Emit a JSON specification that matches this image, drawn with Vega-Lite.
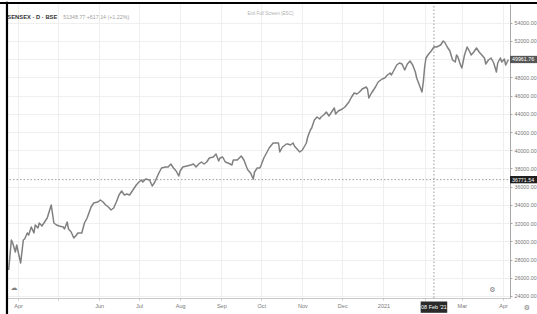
{
  "$schema": "https://vega.github.io/schema/vega-lite/v6.json",
  "width": 503,
  "height": 294,
  "autosize": {"type": "none"},
  "padding": {"left": 7, "top": 4, "right": 27, "bottom": 16},
  "background": "white",
  "config": {"view": {"stroke": null}, "font": "Liberation Sans"},
  "datasets": {
    "p": [
      {"date":"2020-03-25","value":26854},{"date":"2020-03-27","value":30147},{"date":"2020-03-28","value":29818},{"date":"2020-03-30","value":28830},{"date":"2020-03-31","value":29598},
      {"date":"2020-04-02","value":28281},{"date":"2020-04-03","value":27622},{"date":"2020-04-05","value":30147},{"date":"2020-04-06","value":30257},{"date":"2020-04-08","value":30916},
      {"date":"2020-04-09","value":30696},{"date":"2020-04-11","value":31574},{"date":"2020-04-13","value":30916},{"date":"2020-04-14","value":31794},{"date":"2020-04-16","value":31464},
      {"date":"2020-04-17","value":32013},{"date":"2020-04-19","value":31684},{"date":"2020-04-21","value":32123},{"date":"2020-04-23","value":32562},{"date":"2020-04-26","value":33989},
      {"date":"2020-04-28","value":32013},{"date":"2020-04-30","value":31794},{"date":"2020-05-02","value":31684},{"date":"2020-05-05","value":31574},{"date":"2020-05-06","value":31355},
      {"date":"2020-05-08","value":32123},{"date":"2020-05-09","value":31355},{"date":"2020-05-11","value":31025},{"date":"2020-05-13","value":30367},{"date":"2020-05-15","value":30696},
      {"date":"2020-05-16","value":30916},{"date":"2020-05-19","value":30916},{"date":"2020-05-21","value":32013},{"date":"2020-05-23","value":32562},{"date":"2020-05-26","value":33770},
      {"date":"2020-05-28","value":34209},{"date":"2020-05-31","value":34318},{"date":"2020-06-02","value":34538},{"date":"2020-06-04","value":34318},{"date":"2020-06-06","value":33989},
      {"date":"2020-06-08","value":33770},{"date":"2020-06-10","value":33440},{"date":"2020-06-12","value":33660},{"date":"2020-06-14","value":34318},{"date":"2020-06-16","value":35087},
      {"date":"2020-06-18","value":35526},{"date":"2020-06-20","value":35087},{"date":"2020-06-22","value":35197},{"date":"2020-06-24","value":35087},{"date":"2020-06-27","value":35745},
      {"date":"2020-06-29","value":36184},{"date":"2020-07-01","value":36514},{"date":"2020-07-03","value":36733},{"date":"2020-07-04","value":36514},{"date":"2020-07-06","value":36843},
      {"date":"2020-07-09","value":36733},{"date":"2020-07-11","value":36075},{"date":"2020-07-13","value":36514},{"date":"2020-07-16","value":37502},{"date":"2020-07-18","value":38051},
      {"date":"2020-07-21","value":38160},{"date":"2020-07-23","value":38160},{"date":"2020-07-25","value":38490},{"date":"2020-07-27","value":38051},{"date":"2020-07-29","value":37721},
      {"date":"2020-07-31","value":37172},{"date":"2020-08-01","value":37721},{"date":"2020-08-03","value":38160},{"date":"2020-08-06","value":38270},{"date":"2020-08-09","value":38380},
      {"date":"2020-08-11","value":38490},{"date":"2020-08-13","value":38160},{"date":"2020-08-15","value":38490},{"date":"2020-08-17","value":38709},{"date":"2020-08-19","value":38490},
      {"date":"2020-08-21","value":38709},{"date":"2020-08-23","value":39148},{"date":"2020-08-26","value":39258},{"date":"2020-08-28","value":39587},{"date":"2020-08-30","value":38819},
      {"date":"2020-08-31","value":39148},{"date":"2020-09-02","value":39258},{"date":"2020-09-04","value":38709},{"date":"2020-09-06","value":38599},{"date":"2020-09-09","value":38380},
      {"date":"2020-09-10","value":38929},{"date":"2020-09-13","value":38929},{"date":"2020-09-16","value":39368},{"date":"2020-09-18","value":38929},{"date":"2020-09-20","value":38160},
      {"date":"2020-09-21","value":37831},{"date":"2020-09-23","value":37502},{"date":"2020-09-25","value":36843},{"date":"2020-09-26","value":37612},{"date":"2020-09-28","value":38051},
      {"date":"2020-09-30","value":38051},{"date":"2020-10-01","value":38380},{"date":"2020-10-03","value":39148},{"date":"2020-10-05","value":39697},{"date":"2020-10-07","value":40246},
      {"date":"2020-10-10","value":40795},{"date":"2020-10-12","value":40795},{"date":"2020-10-14","value":40795},{"date":"2020-10-15","value":39807},{"date":"2020-10-17","value":40356},
      {"date":"2020-10-20","value":40685},{"date":"2020-10-21","value":40685},{"date":"2020-10-23","value":40575},{"date":"2020-10-25","value":40795},{"date":"2020-10-26","value":40466},
      {"date":"2020-10-28","value":40136},{"date":"2020-10-30","value":39807},{"date":"2020-11-01","value":40026},{"date":"2020-11-04","value":40795},{"date":"2020-11-05","value":41453},
      {"date":"2020-11-07","value":42222},{"date":"2020-11-08","value":42441},{"date":"2020-11-10","value":43320},{"date":"2020-11-12","value":43649},{"date":"2020-11-14","value":43430},
      {"date":"2020-11-15","value":43649},{"date":"2020-11-17","value":43869},{"date":"2020-11-19","value":44198},{"date":"2020-11-21","value":43759},{"date":"2020-11-23","value":44198},
      {"date":"2020-11-25","value":44637},{"date":"2020-11-26","value":43978},{"date":"2020-11-28","value":44307},{"date":"2020-12-01","value":44527},{"date":"2020-12-03","value":44747},
      {"date":"2020-12-06","value":45295},{"date":"2020-12-08","value":45844},{"date":"2020-12-10","value":46283},{"date":"2020-12-12","value":46174},{"date":"2020-12-14","value":46393},
      {"date":"2020-12-16","value":46722},{"date":"2020-12-19","value":46942},{"date":"2020-12-20","value":46722},{"date":"2020-12-21","value":45734},{"date":"2020-12-23","value":46283},
      {"date":"2020-12-26","value":46942},{"date":"2020-12-28","value":47491},{"date":"2020-12-31","value":47820},{"date":"2021-01-02","value":47930},{"date":"2021-01-04","value":48259},
      {"date":"2021-01-06","value":48479},{"date":"2021-01-07","value":48259},{"date":"2021-01-09","value":48808},{"date":"2021-01-11","value":49357},{"date":"2021-01-13","value":49576},
      {"date":"2021-01-15","value":49466},{"date":"2021-01-17","value":48808},{"date":"2021-01-19","value":49466},{"date":"2021-01-21","value":49796},{"date":"2021-01-23","value":49357},
      {"date":"2021-01-25","value":48588},{"date":"2021-01-26","value":47930},{"date":"2021-01-28","value":47161},{"date":"2021-01-30","value":46393},{"date":"2021-01-31","value":47491},
      {"date":"2021-02-01","value":49137},{"date":"2021-02-02","value":50125},{"date":"2021-02-04","value":50564},{"date":"2021-02-06","value":50894},{"date":"2021-02-08","value":51349},
      {"date":"2021-02-10","value":51333},{"date":"2021-02-13","value":51552},{"date":"2021-02-15","value":51991},{"date":"2021-02-16","value":51881},{"date":"2021-02-18","value":51333},
      {"date":"2021-02-20","value":50894},{"date":"2021-02-22","value":49906},{"date":"2021-02-24","value":49686},{"date":"2021-02-25","value":50455},{"date":"2021-02-26","value":50235},
      {"date":"2021-02-28","value":49357},{"date":"2021-03-01","value":49027},{"date":"2021-03-03","value":50455},{"date":"2021-03-05","value":51333},{"date":"2021-03-07","value":50784},
      {"date":"2021-03-08","value":50455},{"date":"2021-03-10","value":50784},{"date":"2021-03-12","value":51223},{"date":"2021-03-14","value":50784},{"date":"2021-03-16","value":50455},
      {"date":"2021-03-18","value":50125},{"date":"2021-03-19","value":49467},{"date":"2021-03-21","value":49906},{"date":"2021-03-23","value":50125},{"date":"2021-03-25","value":49576},
      {"date":"2021-03-27","value":48588},{"date":"2021-03-28","value":49576},{"date":"2021-03-30","value":50125},{"date":"2021-03-31","value":49686},{"date":"2021-04-02","value":50015},
      {"date":"2021-04-03","value":49357},{"date":"2021-04-05","value":49962}
    ],
    "a": [
      {"kind":"cross","date":"2021-02-08","date2":"2021-02-08","value":23780,"value2":56053},
      {"kind":"cross","date":"2020-03-23","date2":"2021-04-07","value":36771.54,"value2":36771.54},
      {"kind":"frame","date":"2020-03-23T17:00:00Z","date2":"2020-03-23T17:00:00Z","value":21900,"value2":56300},
      {"kind":"frame","date":"2020-03-17","date2":"2021-04-28","value":56163,"value2":56163},
      {"kind":"box","box":"last","date":"2021-04-06T05:30:00Z","date2":"2021-04-28","value":50362,"value2":49562,"text":"49961.76"},
      {"kind":"box","box":"cross","date":"2021-04-06T05:30:00Z","date2":"2021-04-28","value":37171,"value2":36371,"text":"36771.54"},
      {"kind":"box","box":"date","date":"2021-01-29","date2":"2021-02-18","value":23396,"value2":22156},
      {"kind":"pricetext","date":"2021-04-07","value":49961.76,"text":"49961.76"},
      {"kind":"pricetext","date":"2021-04-07","value":36771.54,"text":"36771.54"},
      {"kind":"datetext","date":"2021-02-08","value":22776,"text":"08 Feb '21"},
      {"kind":"title","date":"2020-03-24","value":54626,"text":"SENSEX · D · BSE"},
      {"kind":"quote","date":"2020-05-05","value":54626,"text":"51348.77 +617.14 (+1.22%)"},
      {"kind":"exit","date":"2020-10-08","value":54955,"text":"Exit Full Screen (ESC)"},
      {"kind":"icon","date":"2021-03-24","value":24659,"text":"⚙"},
      {"kind":"icon","date":"2021-04-19","value":22683,"text":"⚙"},
      {"kind":"icon","date":"2020-03-29","value":24878,"text":"☁"}
    ]
  },
  "encoding": {
    "x": {
      "field": "date", "type": "temporal",
      "scale": {"type": "utc", "nice": false,
        "domain": [{"year": 2020, "month": 3, "date": 23, "hours": 17, "minutes": 20, "utc": true},
                   {"year": 2021, "month": 4, "date": 6, "hours": 5, "minutes": 30, "utc": true}]},
      "axis": {
        "title": null, "orient": "bottom",
        "values": [
          {"year":2020,"month":4,"date":1,"utc":true},{"year":2020,"month":5,"date":1,"utc":true},{"year":2020,"month":6,"date":1,"utc":true},
          {"year":2020,"month":7,"date":1,"utc":true},{"year":2020,"month":8,"date":1,"utc":true},{"year":2020,"month":9,"date":1,"utc":true},
          {"year":2020,"month":10,"date":1,"utc":true},{"year":2020,"month":11,"date":1,"utc":true},{"year":2020,"month":12,"date":1,"utc":true},
          {"year":2021,"month":1,"date":1,"utc":true},{"year":2021,"month":2,"date":1,"utc":true},{"year":2021,"month":3,"date":1,"utc":true},
          {"year":2021,"month":4,"date":1,"utc":true}
        ],
        "labelExpr": "(utcmonth(datum.value)==4 || utcmonth(datum.value)==1) ? '' : (utcmonth(datum.value)==0 ? utcFormat(datum.value,'%Y') : utcFormat(datum.value,'%b'))",
        "grid": true, "gridColor": "#efefef", "gridWidth": 1,
        "domainColor": "#c8c8c8", "tickColor": "#c8c8c8", "tickSize": 2,
        "labelFontSize": 5.5, "labelColor": "#777777", "labelPadding": 3,
        "labelOverlap": false, "labelFlush": false
      }
    },
    "y": {
      "field": "value", "type": "quantitative",
      "scale": {"domain": [23780, 56053], "nice": false, "zero": false},
      "axis": {
        "title": null, "orient": "right",
        "values": [24000,26000,28000,30000,32000,34000,36000,38000,40000,42000,44000,46000,48000,50000,52000,54000],
        "labelExpr": "datum.value == 50000 ? '' : format(datum.value, '.2f')",
        "grid": true, "gridColor": "#efefef", "gridWidth": 1,
        "domainColor": "#a8a8a8", "tickColor": "#a8a8a8", "tickSize": 2,
        "labelFontSize": 5.3, "labelColor": "#777777", "labelPadding": 2,
        "labelOverlap": false, "labelFlush": false
      }
    }
  },
  "layer": [
    {
      "data": {"name": "a"},
      "transform": [{"filter": "datum.kind=='cross'"}],
      "mark": {"type": "rule", "color": "#9a9a9a", "strokeWidth": 1, "strokeDash": [1.5, 2]},
      "encoding": {"x2": {"field": "date2"}, "y2": {"field": "value2"}}
    },
    {
      "data": {"name": "p"},
      "mark": {"type": "line", "color": "#808080", "strokeWidth": 1.5, "strokeJoin": "round"}
    },
    {
      "data": {"name": "a"},
      "transform": [{"filter": "datum.kind=='frame'"}],
      "mark": {"type": "rule", "color": "#000000", "strokeWidth": 2.2},
      "encoding": {"x2": {"field": "date2"}, "y2": {"field": "value2"}}
    },
    {
      "data": {"name": "a"},
      "transform": [{"filter": "datum.kind=='box'"}],
      "mark": {"type": "rect"},
      "encoding": {
        "x2": {"field": "date2"}, "y2": {"field": "value2"},
        "color": {"field": "box", "type": "nominal", "legend": null,
          "scale": {"domain": ["last", "cross", "date"], "range": ["#575757", "#202020", "#2a2a2a"]}}
      }
    },
    {
      "data": {"name": "a"},
      "transform": [{"filter": "datum.kind=='pricetext'"}],
      "mark": {"type": "text", "align": "left", "baseline": "middle", "dx": 1, "fontSize": 5.3, "color": "#ffffff"},
      "encoding": {"text": {"field": "text"}}
    },
    {
      "data": {"name": "a"},
      "transform": [{"filter": "datum.kind=='datetext'"}],
      "mark": {"type": "text", "align": "center", "baseline": "middle", "fontSize": 5.5, "color": "#ffffff"},
      "encoding": {"text": {"field": "text"}}
    },
    {
      "data": {"name": "a"},
      "transform": [{"filter": "datum.kind=='title'"}],
      "mark": {"type": "text", "align": "left", "baseline": "middle", "fontSize": 5.8, "fontWeight": "bold", "color": "#333333"},
      "encoding": {"text": {"field": "text"}}
    },
    {
      "data": {"name": "a"},
      "transform": [{"filter": "datum.kind=='quote'"}],
      "mark": {"type": "text", "align": "left", "baseline": "middle", "fontSize": 5.3, "color": "#a0a0a0"},
      "encoding": {"text": {"field": "text"}}
    },
    {
      "data": {"name": "a"},
      "transform": [{"filter": "datum.kind=='exit'"}],
      "mark": {"type": "text", "align": "center", "baseline": "middle", "fontSize": 4.6, "color": "#b0b0b0"},
      "encoding": {"text": {"field": "text"}}
    },
    {
      "data": {"name": "a"},
      "transform": [{"filter": "datum.kind=='icon'"}],
      "mark": {"type": "text", "align": "center", "baseline": "middle", "fontSize": 7, "color": "#808080", "font": "DejaVu Sans"},
      "encoding": {"text": {"field": "text"}}
    }
  ]
}
